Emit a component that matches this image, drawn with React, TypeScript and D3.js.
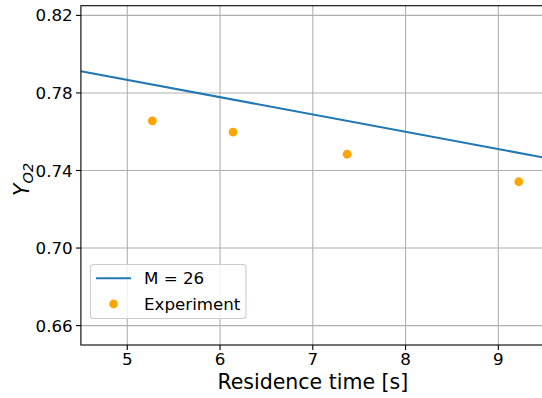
import React from "react";
import * as d3 from "d3";

// Model curve (M = 26) and measured points
const modelTime = [4.5, 9.5];
const modelY = [0.7912, 0.7466];
const expTime = [5.27, 6.14, 7.37, 9.22];
const expY = [0.7656, 0.7598, 0.7484, 0.7342];
const xTicks = [5, 6, 7, 8, 9];
const yTicks = [0.66, 0.70, 0.74, 0.78, 0.82];

const W = 542;
const H = 398;
const M = { left: 80.9, right: 544.7, top: 5.7, bottom: 345 };
const FONT = "DejaVu Sans, sans-serif";

export default function App() {
  const x = d3.scaleLinear().domain([4.5, 9.5]).range([M.left, M.right]);
  const y = d3.scaleLinear().domain([0.65, 0.825]).range([M.bottom, M.top]);
  const line = d3
    .line<number>()
    .x((_, i) => x(modelTime[i]))
    .y((d) => y(d));

  return (
    <svg
      width={W}
      height={H}
      style={{ position: "fixed", left: 0, top: 0, background: "#fff" }}
      fontFamily={FONT}
    >
      <defs>
        <clipPath id="plot">
          <rect x={M.left} y={M.top} width={M.right - M.left} height={M.bottom - M.top} />
        </clipPath>
      </defs>
      {/* grid */}
      {xTicks.map((t) => (
        <line key={"gx" + t} x1={x(t)} x2={x(t)} y1={M.top} y2={M.bottom} stroke="#b0b0b0" strokeWidth={1.1} />
      ))}
      {yTicks.map((t) => (
        <line key={"gy" + t} x1={M.left} x2={M.right} y1={y(t)} y2={y(t)} stroke="#b0b0b0" strokeWidth={1.1} />
      ))}
      <g clipPath="url(#plot)">
        <path d={line(modelY) || ""} fill="none" stroke="#1f77b4" strokeWidth={2.1} />
        {expTime.map((t, i) => (
          <circle key={i} cx={x(t)} cy={y(expY[i])} r={4.4} fill="#ffa500" />
        ))}
      </g>
      {/* spines */}
      <rect x={M.left} y={M.top} width={M.right - M.left} height={M.bottom - M.top} fill="none" stroke="#000" strokeWidth={1.1} />
      {/* x ticks */}
      {xTicks.map((t) => (
        <g key={"tx" + t}>
          <line x1={x(t)} x2={x(t)} y1={M.bottom} y2={M.bottom + 4.9} stroke="#000" strokeWidth={1.1} />
          <text x={x(t)} y={365} textAnchor="middle" fontSize={16.7} fill="#000">{t}</text>
        </g>
      ))}
      {/* y ticks */}
      {yTicks.map((t) => (
        <g key={"ty" + t}>
          <line x1={M.left - 4.9} x2={M.left} y1={y(t)} y2={y(t)} stroke="#000" strokeWidth={1.1} />
          <text x={72.7} y={y(t)} dy="0.36em" textAnchor="end" fontSize={16.7} fill="#000">{t.toFixed(2)}</text>
        </g>
      ))}
      {/* axis labels */}
      <text x={(M.left + M.right) / 2} y={389} textAnchor="middle" fontSize={20.5} fill="#000">Residence time [s]</text>
      <text transform={`translate(29, ${(M.top + M.bottom) / 2 + 4}) rotate(-90)`} textAnchor="middle" fontSize={20.5} fill="#000">
        <tspan fontStyle="italic">Y</tspan>
        <tspan fontStyle="italic" fontSize={14.5} dy={4}>O2</tspan>
      </text>
      {/* legend */}
      <g>
        <rect x={90.5} y={264.5} width={155.5} height={54} rx={3} fill="#fff" fillOpacity={0.8} stroke="#cccccc" strokeWidth={1.1} />
        <line x1={96} x2={131} y1={278.3} y2={278.3} stroke="#1f77b4" strokeWidth={2.1} />
        <text x={144} y={278.3} dy="0.36em" fontSize={16.7} fill="#000">M = 26</text>
        <circle cx={113.5} cy={304} r={4.4} fill="#ffa500" />
        <text x={144} y={304} dy="0.36em" fontSize={16.7} fill="#000">Experiment</text>
      </g>
    </svg>
  );
}
